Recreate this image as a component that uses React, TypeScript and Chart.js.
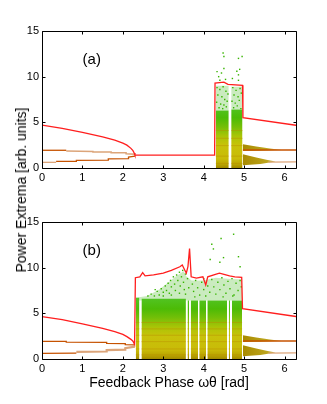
import React, { useEffect, useRef } from "react";
import { Chart, registerables } from "chart.js";

Chart.register(...registerables);

// ---------- axes ----------
const X_MAX = 6.2832;
const X_TICKS = [0, 1, 2, 3, 4, 5, 6];
const Y_TICKS = [0, 5, 10, 15];
const X_TITLE = "Feedback Phase ωθ [rad]";
const Y_TITLE = "Power Extrema [arb. units]";

// ---------- panel (a) ----------
const A_RED_X = [0, 0.5, 1, 1.5, 1.8, 2.0, 2.1, 2.2, 2.25, 2.28, 2.3, 4.27, 4.28, 4.5, 4.6, 4.96, 4.97, 6.2832];
const A_RED_Y = [4.7, 4.33, 3.9, 3.4, 3.05, 2.72, 2.5, 2.15, 1.9, 1.65, 1.4, 1.4, 9.3, 9.4, 9.15, 9.05, 5.5, 4.68];
const A_UP_DARK_X = [0, 0.6];
const A_UP_DARK_Y = [1.94, 1.94];
const A_UP_TAN_X = [0.6, 1.26, 1.26, 1.71, 1.71, 2.08, 2.08, 2.3];
const A_UP_TAN_Y = [1.85, 1.8, 1.74, 1.74, 1.66, 1.66, 1.56, 1.5];
const A_LOW_TAN_X = [0, 0.35];
const A_LOW_TAN_Y = [0.62, 0.62];
const A_LOW_DARK_X = [0.35, 0.85, 0.85, 1.64, 1.64, 2.14, 2.14, 2.3];
const A_LOW_DARK_Y = [0.72, 0.74, 0.84, 0.86, 1.0, 1.02, 1.2, 1.3];
const A_CLOUD_X0 = [4.3, 4.68];
const A_CLOUD_X1 = [4.62, 4.96];
const A_CLOUD_TOP = [6.3, 6.4];
const A_HAZE_TOP = [9.0, 8.9];
const A_STREAK_Y = [0.5, 1.3, 2.45, 3.25, 4.1];
const A_PTS_X = [4.33, 4.4, 4.48, 4.55, 4.35, 4.45, 4.52, 4.6, 4.32, 4.42, 4.5, 4.58, 4.38, 4.47, 4.56,
  4.72, 4.8, 4.9, 4.75, 4.85, 4.93, 4.7, 4.78, 4.88, 4.74, 4.83, 4.92,
  4.48, 4.5, 4.95, 4.86, 4.33, 4.37, 4.5, 4.82, 4.86, 4.54, 4.71, 4.86, 4.4, 4.44, 4.89];
const A_PTS_Y = [8.8, 8.6, 8.9, 8.4, 8.0, 7.8, 7.5, 8.1, 7.2, 7.0, 6.9, 7.3, 6.6, 6.5, 6.7,
  8.8, 8.5, 8.7, 8.0, 7.8, 8.2, 7.3, 7.1, 7.4, 6.6, 6.8, 6.5,
  12.6, 12.2, 12.2, 12.0, 10.55, 10.0, 10.9, 10.6, 10.2, 9.7, 9.8, 9.6, 9.6, 10.4, 10.8];

// ---------- panel (b) ----------
const B_RED_X = [0, 0.5, 1, 1.5, 1.8, 2.0, 2.1, 2.2, 2.25, 2.29, 2.31, 2.42, 2.49, 2.55, 2.76, 3.0, 3.2, 3.41, 3.47, 3.53,
  3.57, 3.61, 3.65, 3.69, 3.82, 3.98, 4.05, 4.1, 4.31, 4.39, 4.64, 4.77, 4.94, 4.96, 6.2832];
const B_RED_Y = [4.65, 4.3, 3.85, 3.35, 3.0, 2.7, 2.45, 2.15, 1.95, 1.6, 8.9, 9.0, 9.45, 9.1, 9.2, 9.4, 9.7, 10.1, 10.3, 9.75,
  9.4, 10.1, 12.1, 9.0, 8.85, 9.0, 8.1, 9.0, 9.3, 9.4, 9.1, 9.0, 8.95, 5.5, 4.65];
const B_UP_DARK_X = [0, 0.6, 0.6, 1.6, 1.6, 2.06, 2.06, 2.29];
const B_UP_DARK_Y = [1.94, 1.94, 1.84, 1.82, 1.7, 1.68, 1.58, 1.55];
const B_LOW_DARK_X = [0, 0.85];
const B_LOW_DARK_Y = [0.62, 0.64];
const B_LOW_TAN_X = [0.85, 1.6, 1.6, 2.06, 2.06, 2.3];
const B_LOW_TAN_Y = [0.78, 0.82, 0.98, 1.02, 1.18, 1.35];
const B_CLOUD_X0 = [2.32, 2.46, 3.6, 3.68, 3.89, 4.09, 4.62, 4.7];
const B_CLOUD_X1 = [2.41, 3.56, 3.64, 3.86, 4.06, 4.58, 4.65, 4.95];
const B_CLOUD_TOP = [6.7, 6.6, 6.4, 6.4, 6.4, 6.4, 6.4, 6.4];
const B_HAZE_X = [2.32, 2.6, 2.9, 3.1, 3.3, 3.5, 3.58, 3.7, 4.0, 4.3, 4.6, 4.95];
const B_HAZE_Y = [6.7, 6.9, 7.6, 8.3, 9.0, 9.6, 9.0, 8.6, 8.6, 8.9, 8.8, 8.7];
const B_STREAK_Y = [0.45, 1.1, 1.9, 2.6, 3.3, 4.0];
const B_PTS_X = [2.62, 2.7, 2.78, 2.85, 2.9, 2.95, 3.0, 3.05, 3.08, 3.12, 3.15, 3.18, 3.2, 3.25, 3.28, 3.3, 3.33, 3.36, 3.4, 3.42,
  3.45, 3.48, 3.5, 3.52, 3.55, 3.6, 3.63, 3.55, 3.4, 3.2, 3.0, 2.8,
  3.72, 3.75, 3.8, 3.85, 3.9, 3.95, 4.0, 4.05, 4.1, 4.15, 4.2, 4.25, 4.3, 4.35, 4.4, 4.45, 4.5, 4.55, 4.6, 4.65,
  4.7, 4.75, 4.8, 4.85, 4.9, 4.93, 4.0, 3.78, 4.48, 4.72,
  4.16, 4.2, 4.24, 4.4, 4.43, 4.49, 4.74, 4.86, 4.9];
const B_PTS_Y = [6.9, 7.1, 6.9, 7.4, 7.0, 7.7, 7.3, 8.0, 7.5, 8.3, 7.2, 8.6, 7.9, 9.0, 8.2, 7.5, 9.2, 8.6, 9.5, 8.0,
  9.0, 9.7, 8.4, 7.6, 9.3, 8.8, 7.8, 7.1, 7.2, 7.0, 6.9, 7.6,
  8.2, 7.4, 8.6, 7.8, 7.0, 8.4, 7.6, 6.9, 8.0, 7.3, 8.7, 7.9, 7.1, 8.4, 7.6, 8.9, 8.1, 7.2, 8.5, 7.7,
  8.8, 7.0, 8.3, 7.5, 8.6, 7.9, 8.8, 6.8, 6.8, 6.9,
  10.9, 12.56, 12.05, 10.6, 13.2, 11.1, 13.66, 11.2, 10.1];

// ---------- right-hand branches (both panels) ----------
const R_DARK_X = [4.97, 6.2832];
const R_DARK_Y = [1.97, 1.97];
const R_TAN_X = [5.6, 6.2832];
const R_TAN_Y = [0.64, 0.66];
const W_UP_TOP_X = [4.97, 5.3, 5.6, 5.92];
const W_UP_TOP_Y = [2.6, 2.35, 2.15, 1.97];
const W_UP_BOT_X = [4.97, 5.4, 5.92];
const W_UP_BOT_Y = [1.85, 1.9, 1.97];
const W_LO_TOP_X = [4.97, 5.3, 5.55, 5.78];
const W_LO_TOP_Y = [1.5, 1.15, 0.9, 0.7];
const W_LO_BOT_X = [4.97, 5.4, 5.78];
const W_LO_BOT_Y = [0.3, 0.45, 0.7];

// ---------- styles ----------
const FONT = '"Liberation Sans", Arial, Helvetica, sans-serif';
const RED = "#ff1e1e";
const DARK = "#c65200";
const TAN = "#dca57a";
const PT = "#38b400";
const HAZE = "rgba(95,195,60,0.33)";
const STREAK = "rgba(185,140,0,0.45)";
const CLOUD_TOP_V = 6.7;
const CLOUD_STOPS: [number, string][] = [
  [0, "#a28a00"],
  [0.4, "#b9a400"],
  [1.0, "#c9bb08"],
  [2.5, "#c8c20a"],
  [3.5, "#aac406"],
  [4.5, "#74bf08"],
  [5.5, "#4cbb06"],
  [6.7, "#52c424"],
];

const xy = (xs: number[], ys: number[]) => xs.map((x, i) => ({ x, y: ys[i] }));

const cloudFill = (c: any) => {
  const chart = c.chart;
  const { chartArea, scales } = chart;
  if (!chartArea) return "#c0c000";
  const y0 = scales.y.getPixelForValue(0);
  const y1 = scales.y.getPixelForValue(CLOUD_TOP_V);
  const g = chart.ctx.createLinearGradient(0, y0, 0, y1);
  CLOUD_STOPS.forEach(([v, col]) => g.addColorStop(v / CLOUD_TOP_V, col));
  return g;
};

const wedgeFill = (c: any) => {
  const chart = c.chart;
  const { chartArea, scales } = chart;
  if (!chartArea) return "#b8a012";
  const x0 = scales.x.getPixelForValue(4.97);
  const x1 = scales.x.getPixelForValue(5.92);
  const g = chart.ctx.createLinearGradient(x0, 0, x1, 0);
  g.addColorStop(0, "#a88a00");
  g.addColorStop(0.6, "#bca41c");
  g.addColorStop(1, "#d2c070");
  return g;
};

const line = (data: any[], color: string, width: number) => ({
  data,
  borderColor: color,
  borderWidth: width,
  pointRadius: 0,
  fill: false,
  tension: 0,
  spanGaps: false,
});

const area = (data: any[], bg: any, fill: any) => ({
  data,
  borderColor: "rgba(0,0,0,0)",
  borderWidth: 0,
  backgroundColor: bg,
  pointRadius: 0,
  fill,
  tension: 0,
});

// horizontal streaks through each cloud block, broken at the gaps
const streakData = (x0s: number[], x1s: number[], tops: number[], y: number) => {
  const out: any[] = [];
  x0s.forEach((x0, i) => {
    if (y < tops[i]) {
      out.push({ x: x0, y }, { x: x1s[i], y }, { x: x1s[i], y: null });
    }
  });
  return out;
};

function buildDatasets(p: any) {
  const ds: any[] = [];
  ds.push(line(xy(p.redX, p.redY), RED, 1.3));
  p.dark.forEach((l: any) => ds.push(line(xy(l[0], l[1]), DARK, 1.3)));
  p.tan.forEach((l: any) => ds.push(line(xy(l[0], l[1]), TAN, l[2])));
  ds.push({
    data: xy(p.ptsX, p.ptsY),
    showLine: false,
    pointRadius: 1,
    pointStyle: "rect",
    pointBackgroundColor: PT,
    pointBorderWidth: 0,
    pointBorderColor: PT,
  });
  p.streaks.forEach((y: number) =>
    ds.push(line(streakData(p.cloudX0, p.cloudX1, p.cloudTop, y), STREAK, 1))
  );
  p.cloudX0.forEach((x0: number, i: number) =>
    ds.push(area([{ x: x0, y: p.cloudTop[i] }, { x: p.cloudX1[i], y: p.cloudTop[i] }], cloudFill, "origin"))
  );
  ds.push(area(xy(W_UP_BOT_X, W_UP_BOT_Y), "rgba(0,0,0,0)", false));
  ds.push(area(xy(W_UP_TOP_X, W_UP_TOP_Y), wedgeFill, "-1"));
  ds.push(area(xy(W_LO_BOT_X, W_LO_BOT_Y), "rgba(0,0,0,0)", false));
  ds.push(area(xy(W_LO_TOP_X, W_LO_TOP_Y), wedgeFill, "-1"));
  p.haze.forEach((h: any) => ds.push(area(h.data, HAZE, { value: h.base })));
  return ds;
}

const PANEL_A = {
  redX: A_RED_X,
  redY: A_RED_Y,
  dark: [[A_UP_DARK_X, A_UP_DARK_Y], [A_LOW_DARK_X, A_LOW_DARK_Y], [R_DARK_X, R_DARK_Y]],
  tan: [[A_UP_TAN_X, A_UP_TAN_Y, 1.5], [A_LOW_TAN_X, A_LOW_TAN_Y, 1.3], [R_TAN_X, R_TAN_Y, 1.3]],
  ptsX: A_PTS_X,
  ptsY: A_PTS_Y,
  cloudX0: A_CLOUD_X0,
  cloudX1: A_CLOUD_X1,
  cloudTop: A_CLOUD_TOP,
  streaks: A_STREAK_Y,
  haze: A_CLOUD_X0.map((x0, i) => ({
    data: [{ x: x0, y: A_HAZE_TOP[i] }, { x: A_CLOUD_X1[i], y: A_HAZE_TOP[i] }],
    base: A_CLOUD_TOP[i],
  })),
};

const PANEL_B = {
  redX: B_RED_X,
  redY: B_RED_Y,
  dark: [[B_UP_DARK_X, B_UP_DARK_Y], [B_LOW_DARK_X, B_LOW_DARK_Y], [R_DARK_X, R_DARK_Y]],
  tan: [[B_LOW_TAN_X, B_LOW_TAN_Y, 2.2], [R_TAN_X, R_TAN_Y, 1.3]],
  ptsX: B_PTS_X,
  ptsY: B_PTS_Y,
  cloudX0: B_CLOUD_X0,
  cloudX1: B_CLOUD_X1,
  cloudTop: B_CLOUD_TOP,
  streaks: B_STREAK_Y,
  haze: [{ data: xy(B_HAZE_X, B_HAZE_Y), base: 6.4 }],
};

const LABEL_X = 1.23;
const LABEL_Y = 11.8;

const framePlugin = {
  id: "frame",
  afterDatasetsDraw(chart: any, _args: any, opts: any) {
    const { ctx, chartArea: a, scales } = chart;
    ctx.save();
    ctx.strokeStyle = "#000";
    ctx.lineWidth = 1;
    const L = Math.round(a.left) + 0.5;
    const T = Math.round(a.top) + 0.5;
    const R = Math.round(a.right) + 0.5;
    const B = Math.round(a.bottom) + 0.5;
    ctx.beginPath();
    ctx.rect(L, T, R - L, B - T);
    const tl = 3;
    scales.x.ticks.forEach((t: any) => {
      const px = Math.round(scales.x.getPixelForValue(t.value)) + 0.5;
      ctx.moveTo(px, B);
      ctx.lineTo(px, B - tl);
      ctx.moveTo(px, T);
      ctx.lineTo(px, T + tl);
    });
    scales.y.ticks.forEach((t: any) => {
      const py = Math.round(scales.y.getPixelForValue(t.value)) + 0.5;
      ctx.moveTo(L, py);
      ctx.lineTo(L + tl, py);
      ctx.moveTo(R, py);
      ctx.lineTo(R - tl, py);
    });
    ctx.stroke();
    ctx.font = `15px ${FONT}`;
    ctx.fillStyle = "#000";
    ctx.textAlign = "center";
    ctx.textBaseline = "middle";
    ctx.fillText(opts.text, scales.x.getPixelForValue(LABEL_X), scales.y.getPixelForValue(LABEL_Y));
    ctx.restore();
  },
};

type PanelProps = {
  top: number;
  height: number;
  panel: any;
  label: string;
  padding: any;
  xHeight: number;
  showTitle: boolean;
};

function Panel({ top, height, panel, label, padding, xHeight, showTitle }: PanelProps) {
  const ref = useRef<HTMLCanvasElement>(null);
  useEffect(() => {
    if (!ref.current) return;
    const tickFont = { family: FONT, size: 11 };
    const chart = new Chart(ref.current, {
      type: "line",
      data: { datasets: buildDatasets(panel) },
      options: {
        responsive: false,
        animation: false,
        events: [],
        layout: { padding },
        plugins: {
          legend: { display: false },
          tooltip: { enabled: false },
          frame: { text: label },
        } as any,
        scales: {
          x: {
            type: "linear",
            min: 0,
            max: X_MAX,
            afterBuildTicks: (s: any) => {
              s.ticks = X_TICKS.map((v) => ({ value: v }));
            },
            afterFit: (s: any) => {
              s.height = xHeight;
            },
            grid: { display: false, drawTicks: false },
            border: { display: false },
            ticks: { font: tickFont, color: "#000", padding: 3, maxRotation: 0, autoSkip: false },
            title: {
              display: showTitle,
              text: X_TITLE,
              color: "#000",
              font: { family: FONT, size: 14 },
              padding: { top: 0, bottom: 12 },
            },
          },
          y: {
            type: "linear",
            min: 0,
            max: 15,
            afterBuildTicks: (s: any) => {
              s.ticks = Y_TICKS.map((v) => ({ value: v }));
            },
            afterFit: (s: any) => {
              s.width = 42;
            },
            grid: { display: false, drawTicks: false },
            border: { display: false },
            ticks: { font: tickFont, color: "#000", padding: 3, autoSkip: false },
          },
        },
      } as any,
      plugins: [framePlugin],
    });
    return () => chart.destroy();
  }, []);
  return (
    <canvas
      ref={ref}
      width={327}
      height={height}
      style={{ position: "absolute", left: 0, top, width: 327, height, display: "block" }}
    />
  );
}

export default function App() {
  return (
    <div
      style={{
        position: "absolute",
        left: 0,
        top: 0,
        width: 327,
        height: 404,
        background: "#fff",
        overflow: "hidden",
      }}
    >
      <Panel
        top={0}
        height={200}
        panel={PANEL_A}
        label="(a)"
        padding={{ top: 31, right: 31, bottom: 10, left: 0 }}
        xHeight={22}
        showTitle={false}
      />
      <Panel
        top={200}
        height={204}
        panel={PANEL_B}
        label="(b)"
        padding={{ top: 22, right: 31, bottom: 0, left: 0 }}
        xHeight={45}
        showTitle={true}
      />
      <div
        style={{
          position: "absolute",
          left: 21,
          top: 190,
          transform: "translate(-50%, -50%) rotate(-90deg)",
          whiteSpace: "nowrap",
          fontFamily: FONT,
          fontSize: 14,
          color: "#000",
          lineHeight: 1,
        }}
      >
        {Y_TITLE}
      </div>
    </div>
  );
}
